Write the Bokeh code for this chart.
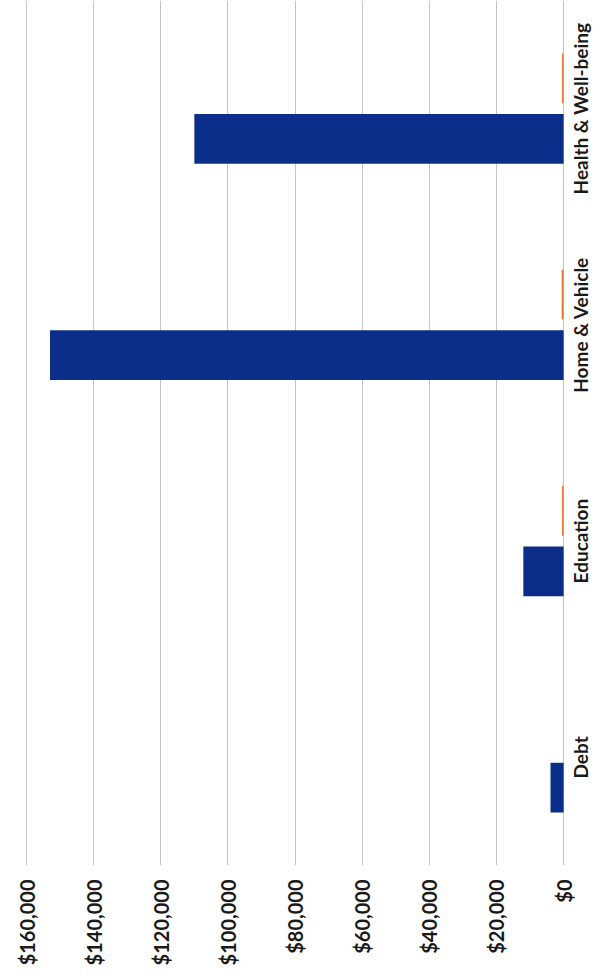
import math
from bokeh.plotting import figure
from bokeh.models import Range1d, FixedTicker, NumeralTickFormatter, ColumnDataSource, LabelSet
from bokeh.transform import dodge
from bokeh.core.properties import value
from bokeh.embed import file_html
from bokeh.resources import INLINE

categories = ["Debt", "Education", "Home & Vehicle", "Health & Well-being"]
series_a = [3900, 12000, 153000, 110000]
series_b = [0, 500, 600, 500]
tick_values = [0, 20000, 40000, 60000, 80000, 100000, 120000, 140000, 160000]

source = ColumnDataSource(dict(cat=categories, a=series_a, b=series_b,
                               base=[0] * len(categories)))

# value axis runs right-to-left; the range extends past $0 to leave room for
# the category labels on the right
p = figure(
    width=595, height=968,
    y_range=categories,
    x_range=Range1d(160600, -9500),
    output_backend="svg", toolbar_location=None,
    x_axis_location="below", y_axis_location="right",
    min_border_left=24, min_border_right=0, min_border_top=0, min_border_bottom=0,
)
p.outline_line_color = None
p.background_fill_color = "white"
p.border_fill_color = "white"

p.hbar(y=dodge("cat", -0.14, range=p.y_range), right="a", left=0, height=0.23,
       source=source, color="#0b2e8a", line_color=None)
p.hbar(y=dodge("cat", 0.14, range=p.y_range), right="b", left=0, height=0.23,
       source=source, color="#ED7D31", line_color=None)

p.xaxis.ticker = FixedTicker(ticks=tick_values)
p.xaxis.formatter = NumeralTickFormatter(format="$0,0")
p.xaxis.major_label_orientation = math.pi / 2
p.yaxis.visible = False

ax = p.xaxis[0]
ax.axis_line_color = None
ax.major_tick_line_color = None
ax.minor_tick_line_color = None
ax.major_tick_out = 0
ax.major_tick_in = 0
ax.major_label_text_font = "Lato"
ax.major_label_text_font_style = "bold"
ax.major_label_text_font_size = "20px"
ax.major_label_text_color = "#1a1a1a"
ax.major_label_standoff = 14

cat_labels = LabelSet(x="base", y="cat", text="cat", source=source,
                      x_offset=17, angle=math.pi / 2,
                      text_align="center", text_baseline="middle",
                      text_font=value("Lato"), text_font_style="bold",
                      text_font_size="19px", text_color="#1a1a1a")
p.add_layout(cat_labels)

p.xgrid.grid_line_color = "#c4c4c4"
p.xgrid.grid_line_width = 1
p.ygrid.grid_line_color = None

open("out.html", "w").write(file_html(p, INLINE))
